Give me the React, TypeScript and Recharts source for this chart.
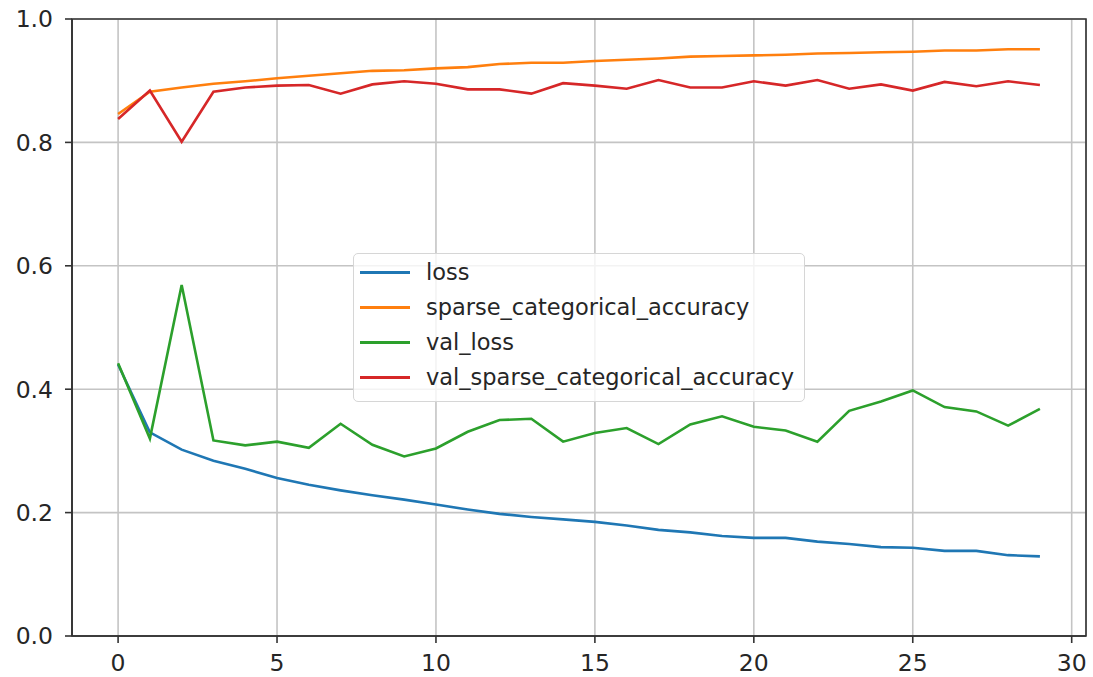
import {
  LineChart,
  Line,
  XAxis,
  YAxis,
  CartesianGrid,
  Legend,
  ReferenceArea,
} from "recharts";

const epochs = [
  0, 1, 2, 3, 4, 5, 6, 7, 8, 9, 10, 11, 12, 13, 14, 15, 16, 17, 18, 19, 20, 21,
  22, 23, 24, 25, 26, 27, 28, 29,
];

const loss = [
  0.44, 0.33, 0.302, 0.284, 0.271, 0.256, 0.245, 0.236, 0.228, 0.221, 0.213,
  0.205, 0.198, 0.193, 0.189, 0.185, 0.179, 0.172, 0.168, 0.162, 0.159, 0.159,
  0.153, 0.149, 0.144, 0.143, 0.138, 0.138, 0.131, 0.129,
];

const sparseCategoricalAccuracy = [
  0.846, 0.882, 0.889, 0.895, 0.899, 0.904, 0.908, 0.912, 0.916, 0.917, 0.92,
  0.922, 0.927, 0.929, 0.929, 0.932, 0.934, 0.936, 0.939, 0.94, 0.941, 0.942,
  0.944, 0.945, 0.946, 0.947, 0.949, 0.949, 0.951, 0.951,
];

const valLoss = [
  0.442, 0.32, 0.569, 0.317, 0.309, 0.315, 0.305, 0.344, 0.31, 0.291, 0.304,
  0.331, 0.35, 0.352, 0.315, 0.329, 0.337, 0.311, 0.343, 0.356, 0.339, 0.333,
  0.315, 0.365, 0.38, 0.398, 0.371, 0.364, 0.341, 0.368,
];

const valSparseCategoricalAccuracy = [
  0.838, 0.884, 0.801, 0.882, 0.889, 0.892, 0.893, 0.879, 0.894, 0.899, 0.895,
  0.886, 0.886, 0.879, 0.896, 0.892, 0.887, 0.901, 0.889, 0.889, 0.899, 0.892,
  0.901, 0.887, 0.894, 0.884, 0.898, 0.891, 0.899, 0.893,
];

const xTicks = [0, 5, 10, 15, 20, 25, 30];
const yTicks = [0, 0.2, 0.4, 0.6, 0.8, 1.0];

const rows = epochs.map((e, i) => ({
  epoch: e,
  loss: loss[i],
  sparse_categorical_accuracy: sparseCategoricalAccuracy[i],
  val_loss: valLoss[i],
  val_sparse_categorical_accuracy: valSparseCategoricalAccuracy[i],
}));

const FONT = "'DejaVu Sans', sans-serif";
const AXIS = "#333333";

// matplotlib-ish legend box
const LegendBox = (props: any) => {
  const items = props.payload || [];
  return (
    <div
      style={{
        boxSizing: "border-box",
        width: 452,
        height: 149,
        border: "1px solid #d6d6d6",
        borderRadius: 5,
        background: "rgba(255,255,255,0.8)",
        padding: "1px 0 0 0",
        fontFamily: FONT,
        fontSize: 22.5,
        color: "#262626",
      }}>
      {items.map((it: any) => (
        <div
          key={it.value}
          style={{ display: "flex", alignItems: "center", height: 35 }}>
          <span
            style={{
              display: "inline-block",
              width: 50,
              height: 3,
              marginLeft: 6,
              marginRight: 16,
              background: it.color,
            }}
          />
          <span style={{ lineHeight: "35px", whiteSpace: "nowrap" }}>
            {it.value}
          </span>
        </div>
      ))}
    </div>
  );
};

export default function App() {
  return (
    <div style={{ position: "absolute", left: 0, top: 0, background: "#fff" }}>
      <LineChart
        width={1093}
        height={677}
        data={rows}
        margin={{ top: 19, right: 7, bottom: 0, left: 0 }}
        style={{ fontFamily: FONT }}>
        <CartesianGrid stroke="#c4c4c4" strokeWidth={1.6} />
        <XAxis
          dataKey="epoch"
          type="number"
          domain={[-1.45, 30.45]}
          ticks={xTicks}
          allowDataOverflow
          height={41}
          tickSize={7}
          tickMargin={11}
          axisLine={{ stroke: AXIS, strokeWidth: 1.6 }}
          tickLine={{ stroke: AXIS, strokeWidth: 1.6 }}
          tick={{ fill: "#262626", fontSize: 23.5 }}
        />
        <YAxis
          type="number"
          domain={[0, 1]}
          ticks={yTicks}
          width={72}
          tickSize={7}
          tickMargin={12}
          tickFormatter={(v: number) => v.toFixed(1)}
          axisLine={{ stroke: AXIS, strokeWidth: 1.6 }}
          tickLine={{ stroke: AXIS, strokeWidth: 1.6 }}
          tick={{ fill: "#262626", fontSize: 23.5 }}
        />
        <ReferenceArea
          x1={-1.45}
          x2={30.45}
          y1={0}
          y2={1}
          fill="none"
          stroke={AXIS}
          strokeWidth={1.6}
          ifOverflow="visible"
        />
        <Line
          dataKey="loss"
          name="loss"
          stroke="#1f77b4"
          strokeWidth={2.6}
          dot={false}
          isAnimationActive={false}
        />
        <Line
          dataKey="sparse_categorical_accuracy"
          name="sparse_categorical_accuracy"
          stroke="#ff7f0e"
          strokeWidth={2.6}
          dot={false}
          isAnimationActive={false}
        />
        <Line
          dataKey="val_loss"
          name="val_loss"
          stroke="#2ca02c"
          strokeWidth={2.6}
          dot={false}
          isAnimationActive={false}
        />
        <Line
          dataKey="val_sparse_categorical_accuracy"
          name="val_sparse_categorical_accuracy"
          stroke="#d62728"
          strokeWidth={2.6}
          dot={false}
          isAnimationActive={false}
        />
        <Legend
          layout="vertical"
          align="center"
          verticalAlign="middle"
          content={<LegendBox />}
          wrapperStyle={{ left: 353, top: 253, width: 452, height: 149 }}
        />
      </LineChart>
    </div>
  );
}
